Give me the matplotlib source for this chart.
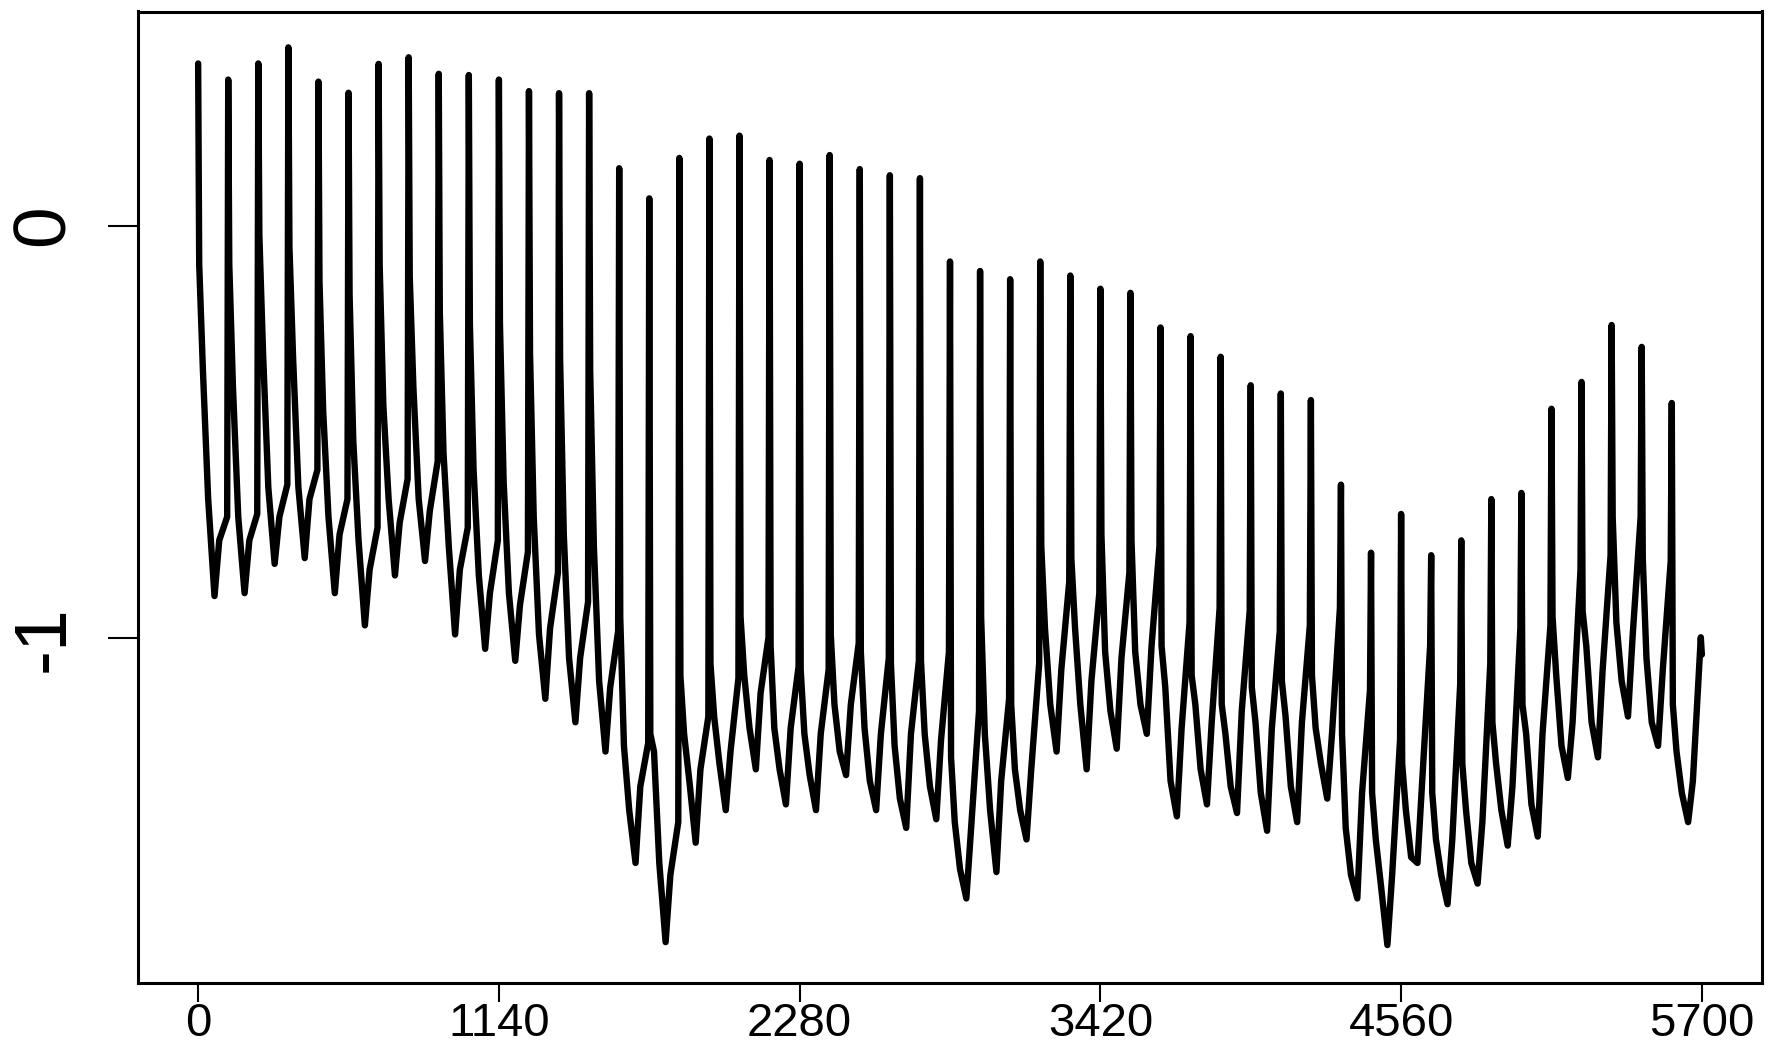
import numpy as np
import matplotlib
matplotlib.use("Agg")
import matplotlib.pyplot as plt

plt.rcParams["font.family"] = ["Liberation Sans", "DejaVu Sans"]

# ── Beat-by-beat readings (50 beats, one every 114 samples) ──────────
BEAT_LEN = 114
N_BEATS = 50

# spike top
peak = [0.393, 0.354, 0.393, 0.432, 0.349, 0.322, 0.392, 0.408, 0.368, 0.365,
        0.354, 0.326, 0.321, 0.321, 0.139, 0.066, 0.164, 0.211, 0.218, 0.159,
        0.150, 0.171, 0.137, 0.122, 0.115, -0.087, -0.110, -0.130, -0.087, -0.121,
        -0.153, -0.163, -0.247, -0.268, -0.318, -0.387, -0.407, -0.423, -0.628, -0.793,
        -0.699, -0.799, -0.763, -0.663, -0.648, -0.444, -0.379, -0.241, -0.294, -0.430]
# first kink after the spike
drop1 = [-0.094, -0.094, -0.023, -0.052, -0.137, -0.166, -0.094, -0.123, -0.208, -0.237,
         -0.237, -0.308, -0.322, -0.350, -0.948, -1.232, -1.090, -1.062, -0.948, -1.019,
         -1.076, -0.991, -1.033, -1.062, -1.055, -1.289, -0.948, -1.161, -0.777, -0.806,
         -0.749, -0.763, -1.019, -1.090, -1.161, -1.119, -1.104, -1.090, -1.232, -1.375,
         -1.304, -1.375, -1.304, -1.204, -1.161, -0.948, -0.934, -0.706, -0.806, -1.161]
drop2 = [-0.350, -0.393, -0.308, -0.322, -0.450, -0.521, -0.436, -0.393, -0.550, -0.592,
         -0.621, -0.706, -0.749, -0.777, -1.261, -1.275, -1.232, -1.190, -1.090, -1.218,
         -1.232, -1.161, -1.218, -1.261, -1.232, -1.446, -1.232, -1.318, -0.976, -0.976,
         -1.033, -1.033, -1.119, -1.161, -1.232, -1.204, -1.190, -1.218, -1.460, -1.488,
         -1.417, -1.488, -1.417, -1.304, -1.232, -1.090, -1.019, -0.962, -1.048, -1.275]
drop3 = [-0.663, -0.706, -0.635, -0.635, -0.706, -0.763, -0.663, -0.663, -0.777, -0.848,
         -0.891, -0.991, -1.048, -1.104, -1.417, -1.545, -1.346, -1.304, -1.218, -1.318,
         -1.332, -1.275, -1.346, -1.389, -1.360, -1.560, -1.417, -1.417, -1.161, -1.161,
         -1.176, -1.161, -1.346, -1.318, -1.360, -1.375, -1.360, -1.304, -1.574, -1.602,
         -1.531, -1.574, -1.545, -1.417, -1.403, -1.261, -1.204, -1.104, -1.204, -1.375]
# lowest point of each beat
trough = [-0.898, -0.891, -0.820, -0.806, -0.891, -0.969, -0.848, -0.813, -0.991, -1.026,
          -1.055, -1.147, -1.204, -1.275, -1.545, -1.737, -1.496, -1.417, -1.318, -1.403,
          -1.417, -1.332, -1.417, -1.460, -1.439, -1.631, -1.567, -1.488, -1.275, -1.318,
          -1.268, -1.232, -1.432, -1.403, -1.424, -1.467, -1.446, -1.389, -1.631, -1.744,
          -1.545, -1.645, -1.595, -1.503, -1.481, -1.339, -1.289, -1.190, -1.261, -1.446]
rise = [-0.763, -0.763, -0.706, -0.663, -0.749, -0.834, -0.720, -0.692, -0.834, -0.891,
        -0.919, -0.976, -1.048, -1.119, -1.360, -1.574, -1.318, -1.275, -1.133, -1.218,
        -1.232, -1.161, -1.232, -1.232, -1.247, -1.460, -1.346, -1.318, -1.076, -1.104,
        -1.048, -1.019, -1.218, -1.204, -1.176, -1.218, -1.204, -1.232, -1.375, -1.574,
        -1.346, -1.488, -1.446, -1.360, -1.232, -1.204, -1.076, -0.991, -1.076, -1.346]
# small hump just before the next spike
hump = [-0.706, -0.699, -0.628, -0.592, -0.663, -0.732, -0.614, -0.571, -0.732, -0.763,
        -0.791, -0.841, -0.912, -0.983, -1.254, -1.446, -1.190, -1.097, -0.998, -1.069,
        -1.076, -1.012, -1.048, -1.055, -1.033, -1.176, -1.147, -1.062, -0.863, -0.891,
        -0.841, -0.777, -0.962, -0.927, -0.934, -0.983, -0.969, -0.927, -1.126, -1.247,
        -1.019, -1.111, -1.062, -0.976, -0.969, -0.834, -0.799, -0.706, -0.813, -0.998]
last_value = -1.040

# sample offsets of the key points inside a beat
offsets = [0, 4, 18, 38, 62, 80, 110]

xs, ys = [], []
for k in range(N_BEATS):
    start = k * BEAT_LEN
    vals = [peak[k], drop1[k], drop2[k], drop3[k], trough[k], rise[k], hump[k]]
    for off, v in zip(offsets, vals):
        xs.append(start + off)
        ys.append(v)
xs.append(N_BEATS * BEAT_LEN)
ys.append(last_value)

# ── Plot ─────────────────────────────────────────────────────────────
W, H = 1786, 1057
fig = plt.figure(figsize=(W / 100, H / 100), dpi=100)
ax = fig.add_axes([138 / W, 1 - 983 / H, (1762 - 138) / W, (983 - 11.5) / H])

ax.plot(xs, ys, color="black", lw=4.6,
        solid_joinstyle="round", solid_capstyle="round")

ax.set_xlim(-228, 5928)
ax.set_ylim(-1.836, 0.519)

ax.set_xticks([0, 1140, 2280, 3420, 4560, 5700])
ax.set_yticks([-1, 0])
ax.set_yticklabels(["-1", "0"], rotation=90, va="center")

ax.tick_params(axis="x", length=14, width=1.5, pad=0, labelsize=34)
ax.tick_params(axis="y", length=21.5, width=1.5, pad=21, labelsize=54)

for s in ax.spines.values():
    s.set_linewidth(2.2)

plt.savefig("out.png", dpi=100)
plt.close()
